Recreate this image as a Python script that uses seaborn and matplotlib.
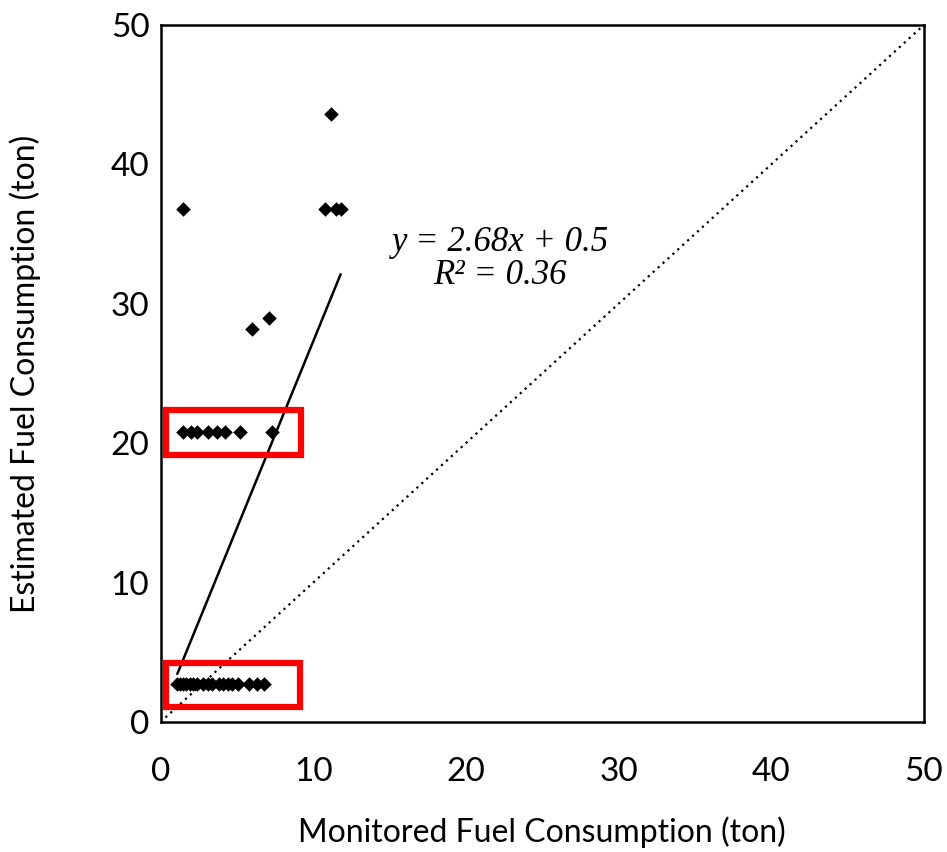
import numpy as np
import matplotlib
matplotlib.use('Agg')
import matplotlib.pyplot as plt
import seaborn as sns
import pandas as pd
from matplotlib.patches import Rectangle

# monitored vs estimated fuel consumption (ton)
monitored = [1.1, 1.3, 1.5, 1.7, 1.9, 2.1, 2.4, 2.8, 3.1, 3.4, 3.8, 4.1, 4.4, 4.7, 5.1, 5.8, 6.3, 6.8,
             1.5, 2.0, 2.4, 3.1, 3.7, 4.2, 5.2, 7.3,
             6.0, 7.1,
             1.5, 10.8, 11.5, 11.8,
             11.2]
estimated = [2.7] * 18 + [20.8] * 8 + [28.2, 29.0] + [36.8] * 4 + [43.6]

fit_slope = 2.68
fit_intercept = 0.5
fit_r2 = 0.36

# highlighted groups: (x0, y0, x1, y1)
boxes = [(0.36, 19.15, 9.2, 22.4), (0.36, 1.05, 9.15, 4.25)]

sns.set_style('white')
plt.rcParams['font.family'] = ['Lato', 'DejaVu Sans']
plt.rcParams['text.color'] = 'black'
plt.rcParams['axes.labelcolor'] = 'black'
plt.rcParams['xtick.color'] = 'black'
plt.rcParams['ytick.color'] = 'black'

df = pd.DataFrame({'mon': monitored, 'est': estimated})

fig = plt.figure(figsize=(9.47, 8.52), dpi=100)
ax = fig.add_axes([0.1695, 0.1526, 0.806, 0.818])

sns.scatterplot(data=df, x='mon', y='est', marker='D', s=55, color='black',
                edgecolor='black', linewidth=0, ax=ax, zorder=5, legend=False)

xf = np.array([min(monitored), max(monitored)])
ax.plot(xf, fit_slope * xf + fit_intercept, color='black', lw=1.8, zorder=4)
ax.plot([0, 50], [0, 50], color='black', lw=1.6, ls=(0, (1, 2)), zorder=3)

for x0, y0, x1, y1 in boxes:
    ax.add_patch(Rectangle((x0, y0), x1 - x0, y1 - y0, fill=False,
                           edgecolor='#ff0000', lw=4.5, zorder=6))

ax.text(0.445, 0.688, 'y = %.2fx + %.1f' % (fit_slope, fit_intercept), transform=ax.transAxes,
        ha='center', va='center', fontsize=25, family='Liberation Serif', style='italic')
ax.text(0.445, 0.641, 'R\u00b2 = %.2f' % fit_r2, transform=ax.transAxes,
        ha='center', va='center', fontsize=25, family='Liberation Serif', style='italic')

ax.set_xlim(0, 50)
ax.set_ylim(0, 50)
ax.set_xticks(range(0, 51, 10))
ax.set_yticks(range(0, 51, 10))
ax.tick_params(direction='in', length=10, width=1.3, labelsize=24)
ax.tick_params(axis='x', pad=25)
ax.tick_params(axis='y', pad=8)
for sp in ax.spines.values():
    sp.set_color('black')
    sp.set_linewidth(1.8)

ax.set_xlabel('Monitored Fuel Consumption (ton)', fontsize=23, va='center')
ax.set_ylabel('Estimated Fuel Consumption (ton)', fontsize=23, va='center')
ax.xaxis.set_label_coords(0.5, -0.158)
ax.yaxis.set_label_coords(-0.1775, 0.5)

fig.savefig('out.png', dpi=100)
